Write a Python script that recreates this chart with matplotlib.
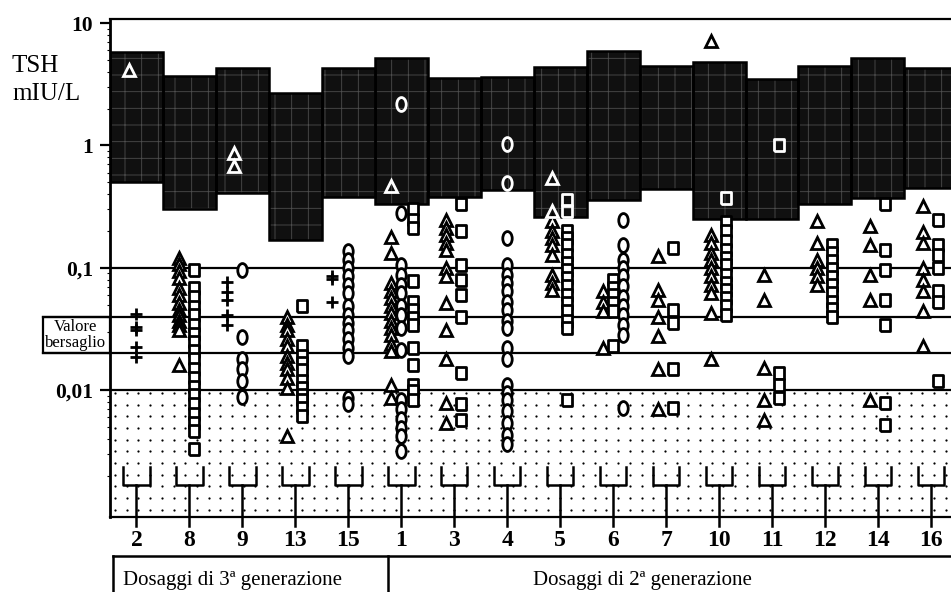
import numpy as np
import matplotlib
matplotlib.use('Agg')
import matplotlib.pyplot as plt
from matplotlib.patches import Rectangle
from matplotlib.lines import Line2D
from matplotlib.path import Path
from matplotlib.transforms import Affine2D

plt.rcParams['font.family'] = ['Liberation Serif', 'DejaVu Serif']
plt.rcParams['hatch.linewidth'] = 0.6

# assays in the order they appear on the x axis
assays = ['2', '8', '9', '13', '15', '1', '3', '4', '5', '6', '7', '10', '11', '12', '14', '16']

# reference interval of each assay (dark boxes), mIU/L
box_low = [0.50, 0.30, 0.41, 0.17, 0.38, 0.33, 0.38, 0.43, 0.26, 0.36, 0.44, 0.25, 0.25, 0.33, 0.37, 0.45]
box_high = [5.8, 3.7, 4.3, 2.7, 4.3, 5.2, 3.55, 3.6, 4.4, 5.9, 4.5, 4.8, 3.5, 4.45, 5.2, 4.3]

# measured TSH values, one list per assay
plus_vals = [
    [0.042, 0.033, 0.031, 0.0225, 0.0188], [], [0.076, 0.064, 0.055, 0.041, 0.034], [],
    [0.081, 0.085, 0.053], [], [], [], [], [], [], [], [], [], [], []]

tri_vals = [
    [4.1],
    [0.121, 0.108, 0.095, 0.083, 0.069, 0.060, 0.052, 0.045, 0.041, 0.037, 0.034, 0.031, 0.016],
    [0.86, 0.68],
    [0.040, 0.034, 0.031, 0.026, 0.023, 0.019, 0.0167, 0.015, 0.0126, 0.0105, 0.0042],
    [],
    [0.47, 0.18, 0.133, 0.0755, 0.065, 0.057, 0.049, 0.043, 0.037, 0.032, 0.028, 0.024, 0.021, 0.011, 0.0087],
    [0.245, 0.212, 0.185, 0.16, 0.14, 0.10, 0.085, 0.052, 0.031, 0.018, 0.0079, 0.0054],
    [],
    [0.54, 0.29, 0.24, 0.20, 0.176, 0.155, 0.128, 0.087, 0.0755, 0.066],
    [0.065, 0.053, 0.044, 0.022],
    [0.125, 0.066, 0.055, 0.040, 0.0275, 0.015, 0.007],
    [7.1, 0.185, 0.16, 0.133, 0.116, 0.10, 0.085, 0.072, 0.0625, 0.043, 0.018],
    [0.087, 0.055, 0.0152, 0.0083, 0.0057],
    [0.24, 0.16, 0.116, 0.10, 0.085, 0.072],
    [0.22, 0.155, 0.087, 0.055, 0.0083],
    [0.32, 0.195, 0.16, 0.10, 0.080, 0.065, 0.044, 0.023],
]

circ_vals = [
    [], [],
    [0.096, 0.027, 0.018, 0.015, 0.012, 0.0088],
    [],
    [0.138, 0.116, 0.100, 0.085, 0.072, 0.0625, 0.049, 0.041, 0.0355, 0.031, 0.026, 0.022, 0.019, 0.0087, 0.0077],
    [2.2, 0.282, 0.105, 0.087, 0.072, 0.0625, 0.049, 0.041, 0.032, 0.0215, 0.0083, 0.007, 0.0058, 0.0049, 0.0042, 0.0032],
    [],
    [1.02, 0.49, 0.176, 0.105, 0.087, 0.0755, 0.065, 0.053, 0.045, 0.037, 0.032, 0.022, 0.018, 0.011, 0.0095,
     0.0083, 0.0068, 0.0054, 0.0043, 0.0036],
    [],
    [0.245, 0.155, 0.116, 0.10, 0.085, 0.071, 0.058, 0.049, 0.041, 0.034, 0.028, 0.0072],
    [], [], [], [], [], [],
]

sq_vals = [
    [],
    [0.096, 0.069, 0.058, 0.048, 0.041, 0.034, 0.029, 0.025, 0.021, 0.018, 0.015, 0.0126, 0.0107, 0.0091,
     0.0077, 0.0064, 0.0054, 0.0046, 0.0033],
    [],
    [0.049, 0.023, 0.019, 0.0167, 0.0146, 0.012, 0.0105, 0.0092, 0.0083, 0.0072, 0.0062],
    [],
    [0.30, 0.245, 0.212, 0.078, 0.053, 0.045, 0.039, 0.034, 0.0222, 0.016, 0.011, 0.0099, 0.0083],
    [0.33, 0.20, 0.105, 0.080, 0.060, 0.040, 0.0139, 0.0077, 0.0057],
    [],
    [0.36, 0.29, 0.20, 0.176, 0.155, 0.128, 0.110, 0.096, 0.083, 0.071, 0.060, 0.052, 0.044, 0.037, 0.032, 0.0083],
    [0.080, 0.069, 0.060, 0.052, 0.044, 0.023],
    [0.146, 0.045, 0.0355, 0.015, 0.0072],
    [0.37, 0.235, 0.20, 0.165, 0.14, 0.121, 0.105, 0.087, 0.0755, 0.066, 0.057, 0.049, 0.041],
    [1.0, 0.0139, 0.011, 0.0087],
    [0.155, 0.133, 0.114, 0.097, 0.084, 0.072, 0.0625, 0.053, 0.046, 0.040],
    [0.33, 0.14, 0.096, 0.055, 0.034, 0.0079, 0.0052],
    [0.245, 0.155, 0.128, 0.10, 0.065, 0.053, 0.012],
]

ref_lines = [0.1, 0.01]
target_lines = [0.04, 0.02]
ytick_vals = [0.01, 0.1, 1, 10]
ytick_labels = ['0,01', '0,1', '1', '10']

W, H = 951, 592
fig = plt.figure(figsize=(W / 100, H / 100), dpi=100)
ax = fig.add_axes([110 / W, 1 - 517 / H, 841 / W, 498 / H])
ax.set_yscale('log')
ax.set_ylim(0.00092, 10.8)
ax.set_xlim(-0.5, 15.38)

# dark reference boxes
for i in range(len(assays)):
    ax.add_patch(Rectangle((i - 0.5, box_low[i]), 1, box_high[i] - box_low[i],
                           facecolor='#101010', edgecolor='#4d4d4d', hatch='+', lw=0, zorder=2))
    ax.add_patch(Rectangle((i - 0.5, box_low[i]), 1, box_high[i] - box_low[i],
                           facecolor='none', edgecolor='black', lw=1.8, zorder=2.1))

# dotted zone below 0.01
lo, hi = np.log10(ax.get_ylim())
y01 = (np.log10(0.01) - lo) / (hi - lo)
gx = np.arange(5, 841, 11.7) / 841
gy = y01 - np.arange(3, 130, 11.65) / 498
gy = gy[gy > 0.005]
GX, GY = np.meshgrid(gx, gy)
ax.scatter(GX.ravel(), GY.ravel(), s=2.6, color='black', lw=0, transform=ax.transAxes, zorder=1)

# horizontal lines
for v in ref_lines:
    ax.axhline(v, color='black', lw=1.6, zorder=1.5)
for v in target_lines:
    ax.plot([-67 / 841, 1], [v, v], color='black', lw=1.6, transform=ax.get_yaxis_transform(),
            clip_on=False, zorder=1.5)
ax.add_patch(Rectangle((-67 / 841, target_lines[1]), 67 / 841, target_lines[0] - target_lines[1],
                       transform=ax.get_yaxis_transform(), fill=False, lw=1.6, clip_on=False))
ymid = np.sqrt(target_lines[0] * target_lines[1])
ax.text(-34 / 841, ymid, 'Valore', transform=ax.get_yaxis_transform(), ha='center', va='bottom',
        fontsize=12)
ax.text(-34 / 841, ymid, 'bersaglio', transform=ax.get_yaxis_transform(), ha='center', va='top',
        fontsize=12)

# marker shapes
ellipse = Path.unit_circle().transformed(Affine2D().scale(0.68, 1.0))
square = [(-0.42, -0.5), (0.42, -0.5), (0.42, 0.5), (-0.42, 0.5), (-0.42, -0.5)]

shifts = {'1': (-0.2, 0.0, 0.22), '6': (-0.2, 0.19, 0.0), '8': (-0.2, 0.0, 0.08)}


def draw(vals_list, marker, which, default, ms):
    for i, vals in enumerate(vals_list):
        if not vals:
            continue
        dx = shifts.get(assays[i], (-0.15, 0.0, 0.13))[which] if which is not None else default
        if which is None and assays[i] == '2':
            dx = 0.0
        v = np.array(vals)
        inside = (v >= box_low[i]) & (v <= box_high[i])
        if marker == '+':
            ax.plot(np.full(len(v), i + dx), v, ls='none', marker='+', ms=ms, mew=2.0,
                    color='black', zorder=4)
            continue
        ax.plot(np.full((~inside).sum(), i + dx), v[~inside], ls='none', marker=marker, ms=ms,
                mfc='white', mec='black', mew=2.0, zorder=4)
        ax.plot(np.full(inside.sum(), i + dx), v[inside], ls='none', marker=marker, ms=ms,
                mfc='none', mec='white', mew=2.0, zorder=4)


draw(plus_vals, '+', None, -0.3, 9)
draw(tri_vals, '^', 0, 0, 8.5)
draw(circ_vals, ellipse, 1, 0, 10)
draw(sq_vals, square, 2, 0, 8.5)

# brackets under each assay
xt = ax.get_xaxis_transform()
for i in range(len(assays)):
    ax.plot([i - 0.25, i - 0.25, i + 0.25, i + 0.25], [0.100, 0.064, 0.064, 0.100], color='black',
            lw=1.8, transform=xt, clip_on=False, zorder=3)
    ax.plot([i, i], [0.064, -0.018], color='black', lw=1.8, transform=xt, clip_on=False, zorder=3)

# axes styling
ax.spines['right'].set_visible(False)
ax.spines['left'].set_linewidth(2.0)
ax.spines['top'].set_linewidth(1.6)
ax.spines['bottom'].set_linewidth(1.6)
ax.set_yticks(ytick_vals, ytick_labels)
ax.tick_params(axis='y', which='major', length=7, width=1.6, pad=5, labelsize=15.5)
ax.tick_params(axis='y', which='minor', length=2.5, width=0.8, labelleft=False)
for lab in ax.get_yticklabels():
    lab.set_fontweight('bold')
ax.set_xticks(range(len(assays)), assays)
ax.tick_params(axis='x', length=0, pad=9, labelsize=17)
for lab in ax.get_xticklabels():
    lab.set_fontweight('bold')

# y axis title
fig.text(12 / W, 1 - 72 / H, 'TSH', fontsize=18, va='baseline', ha='left')
fig.text(12 / W, 1 - 100 / H, 'mIU/L', fontsize=18, va='baseline', ha='left')

# bottom table
fig.add_artist(Line2D([113 / W, 1], [1 - 556 / H] * 2, color='black', lw=1.8))
fig.add_artist(Line2D([113 / W] * 2, [1 - 556 / H, 0], color='black', lw=1.8))
fig.add_artist(Line2D([388 / W] * 2, [1 - 556 / H, 0], color='black', lw=1.8))
fig.text(123 / W, 1 - 585 / H, 'Dosaggi di 3ª generazione', fontsize=15, va='baseline', ha='left')
fig.text(533 / W, 1 - 585 / H, 'Dosaggi di 2ª generazione', fontsize=15, va='baseline', ha='left')

fig.savefig('out.png', dpi=100)
